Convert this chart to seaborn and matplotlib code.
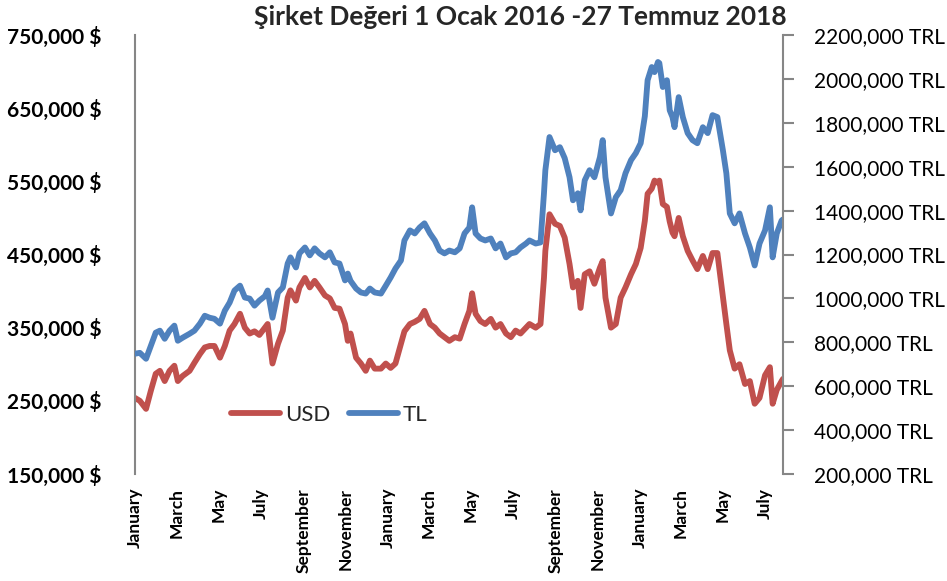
import matplotlib
matplotlib.use("Agg")
import matplotlib.pyplot as plt
import seaborn as sns
import pandas as pd

# ---- data (values in thousands) ----
dates = [
    "2016-01-01", "2016-01-08", "2016-01-17", "2016-01-24", "2016-01-31", "2016-02-06",
    "2016-02-13", "2016-02-20", "2016-02-27", "2016-03-03", "2016-03-10", "2016-03-20",
    "2016-03-27", "2016-04-04", "2016-04-11", "2016-04-18", "2016-04-25", "2016-05-03",
    "2016-05-10", "2016-05-17", "2016-05-24", "2016-06-01", "2016-06-08", "2016-06-15",
    "2016-06-22", "2016-06-29", "2016-07-07", "2016-07-11", "2016-07-18", "2016-07-26",
    "2016-08-02", "2016-08-09", "2016-08-13", "2016-08-21", "2016-08-26", "2016-09-03",
    "2016-09-10", "2016-09-17", "2016-09-24", "2016-10-02", "2016-10-09", "2016-10-16",
    "2016-10-23", "2016-10-31", "2016-11-04", "2016-11-08", "2016-11-16", "2016-11-23",
    "2016-11-30", "2016-12-06", "2016-12-13", "2016-12-22", "2016-12-29", "2017-01-05",
    "2017-01-12", "2017-01-20", "2017-01-25", "2017-02-02", "2017-02-09", "2017-02-16",
    "2017-02-23", "2017-03-03", "2017-03-10", "2017-03-17", "2017-03-24", "2017-03-31",
    "2017-04-08", "2017-04-15", "2017-04-22", "2017-04-29", "2017-05-03", "2017-05-08",
    "2017-05-15", "2017-05-22", "2017-05-30", "2017-06-06", "2017-06-13", "2017-06-21",
    "2017-06-28", "2017-07-05", "2017-07-12", "2017-07-20", "2017-07-25", "2017-08-03",
    "2017-08-10", "2017-08-15", "2017-08-17", "2017-08-23", "2017-08-31", "2017-09-07",
    "2017-09-14", "2017-09-21", "2017-09-26", "2017-10-03", "2017-10-07", "2017-10-13",
    "2017-10-20", "2017-10-27", "2017-11-04", "2017-11-08", "2017-11-12", "2017-11-20",
    "2017-11-27", "2017-12-04", "2017-12-11", "2017-12-19", "2017-12-26", "2018-01-02",
    "2018-01-08", "2018-01-12", "2018-01-18", "2018-01-22", "2018-01-27", "2018-01-29",
    "2018-02-03", "2018-02-09", "2018-02-13", "2018-02-17", "2018-02-20", "2018-02-26",
    "2018-03-04", "2018-03-11", "2018-03-18", "2018-03-25", "2018-04-02", "2018-04-09",
    "2018-04-16", "2018-04-23", "2018-05-01", "2018-05-06", "2018-05-11", "2018-05-18",
    "2018-05-25", "2018-06-02", "2018-06-09", "2018-06-16", "2018-06-23", "2018-07-01",
    "2018-07-08", "2018-07-12", "2018-07-18", "2018-07-25", "2018-07-27",
]
usd_k = [
    254, 250, 239, 264, 287, 291, 277, 291, 298, 277, 284, 291,
    302, 314, 323, 325, 325, 309, 325, 346, 355, 369, 350, 342,
    345, 340, 350, 355, 301, 328, 346, 391, 401, 387, 405, 418,
    405, 414, 405, 394, 390, 377, 376, 355, 332, 342, 309, 301,
    291, 305, 294, 294, 301, 295, 301, 328, 345, 355, 358, 362,
    373, 355, 350, 342, 337, 332, 337, 335, 355, 373, 397, 369,
    359, 355, 362, 350, 355, 342, 337, 346, 342, 350, 355, 350,
    355, 418, 455, 505, 492, 489, 473, 437, 405, 414, 377, 423,
    427, 410, 432, 441, 391, 350, 355, 391, 405, 423, 437, 459,
    496, 533, 540, 551, 548, 551, 519, 515, 495, 480, 475, 500,
    475, 455, 442, 430, 448, 430, 452, 452, 392, 355, 319, 294,
    300, 273, 277, 246, 254, 285, 296, 246, 265, 277, 280,
]
tl_k = [
    748, 752, 725, 784, 844, 853, 816, 853, 876, 807, 821, 839,
    853, 885, 921, 912, 907, 885, 944, 981, 1036, 1058, 1004, 999,
    967, 990, 1010, 1036, 912, 1027, 1050, 1159, 1187, 1141, 1205, 1232,
    1196, 1228, 1205, 1187, 1210, 1164, 1159, 1082, 1113, 1080, 1045, 1027,
    1022, 1045, 1027, 1022, 1058, 1095, 1136, 1173, 1264, 1310, 1296, 1323,
    1342, 1296, 1264, 1218, 1205, 1218, 1210, 1228, 1296, 1323, 1415, 1296,
    1273, 1264, 1273, 1228, 1250, 1187, 1205, 1210, 1232, 1250, 1264, 1250,
    1255, 1479, 1584, 1735, 1675, 1689, 1639, 1552, 1447, 1479, 1401, 1538,
    1584, 1552, 1643, 1721, 1552, 1387, 1461, 1493, 1570, 1630, 1662, 1707,
    1830, 1994, 2054, 2031, 2077, 2072, 1963, 1994, 1857, 1826, 1780, 1917,
    1826, 1753, 1721, 1707, 1780, 1753, 1835, 1826, 1675, 1570, 1387, 1342,
    1387, 1296, 1232, 1150, 1250, 1310, 1415, 1187, 1296, 1355, 1360,
]

left_ticks = [150000, 250000, 350000, 450000, 550000, 650000, 750000]
left_labels = ["150,000 $", "250,000 $", "350,000 $", "450,000 $",
               "550,000 $", "650,000 $", "750,000 $"]
right_ticks = [200000, 400000, 600000, 800000, 1000000, 1200000,
               1400000, 1600000, 1800000, 2000000, 2200000]
right_labels = ["200,000 TRL", "400,000 TRL", "600,000 TRL", "800,000 TRL",
                "1000,000 TRL", "1200,000 TRL", "1400,000 TRL", "1600,000 TRL",
                "1800,000 TRL", "2000,000 TRL", "2200,000 TRL"]
month_ticks = ["2016-01-01", "2016-03-01", "2016-05-01", "2016-07-01",
               "2016-09-01", "2016-11-01", "2017-01-01", "2017-03-01",
               "2017-05-01", "2017-07-01", "2017-09-01", "2017-11-01",
               "2018-01-01", "2018-03-01", "2018-05-01", "2018-07-01"]
month_labels = ["January", "March", "May", "July", "September", "November",
                "January", "March", "May", "July", "September", "November",
                "January", "March", "May", "July"]
series_names = ["USD", "TL"]
title = "Şirket Değeri 1 Ocak 2016 -27 Temmuz 2018"

RED = "#C0504D"
BLUE = "#4F81BD"
SPINE = "#868686"

sns.set_theme(style="white")
plt.rcParams['font.family'] = ['Lato', 'DejaVu Sans']

df = pd.DataFrame({
    "date": pd.to_datetime(dates),
    "USD": [v * 1000 for v in usd_k],
    "TL": [v * 1000 for v in tl_k],
})

fig = plt.figure(figsize=(9.47, 5.81), dpi=100)
ax = fig.add_axes([135 / 947, 1 - 474 / 581, 648 / 947, 439 / 581])
ax2 = ax.twinx()

sns.lineplot(data=df, x="date", y="USD", ax=ax, color=RED, linewidth=4.2, legend=False)
sns.lineplot(data=df, x="date", y="TL", ax=ax2, color=BLUE, linewidth=4.2, legend=False)

ax.set_xlim(pd.Timestamp("2016-01-01"), pd.Timestamp("2018-07-27"))
ax.set_ylim(left_ticks[0], left_ticks[-1])
ax2.set_ylim(right_ticks[0], right_ticks[-1])

ax.set_yticks(left_ticks)
ax.set_yticklabels(left_labels, fontweight="bold", fontsize=15, color="black")
ax.tick_params(axis="y", length=0, pad=24)

ax2.set_yticks(right_ticks)
ax2.set_yticklabels(right_labels, fontsize=15, color="black")
ax2.tick_params(axis="y", length=8, width=1.5, color=SPINE, direction="out", pad=14)

ax.set_xticks(pd.to_datetime(month_ticks))
ax.set_xticklabels(month_labels, rotation=90, fontweight="bold", fontsize=12.5,
                   color="black", va="top", ha="center")
ax.tick_params(axis="x", length=0, pad=10)

for a in (ax, ax2):
    a.set_xlabel("")
    a.set_ylabel("")
    a.grid(False)
    for s in a.spines.values():
        s.set_visible(False)
ax.spines["left"].set_visible(True)
ax.spines["left"].set_color(SPINE)
ax.spines["left"].set_linewidth(1.5)
ax2.spines["right"].set_visible(True)
ax2.spines["right"].set_color(SPINE)
ax2.spines["right"].set_linewidth(1.5)

handles = [ax.lines[0], ax2.lines[0]]
ax2.legend(handles, series_names, loc="center", bbox_to_anchor=(0.30, 0.134),
           ncol=2, frameon=False, fontsize=16, handlelength=2.2,
           handletextpad=0.25, columnspacing=0.8)

fig.text(520 / 947, 1 - 17 / 581, title, ha="center", va="center",
         fontsize=19, fontweight="bold")

fig.savefig("out.png", dpi=100, facecolor="white")
